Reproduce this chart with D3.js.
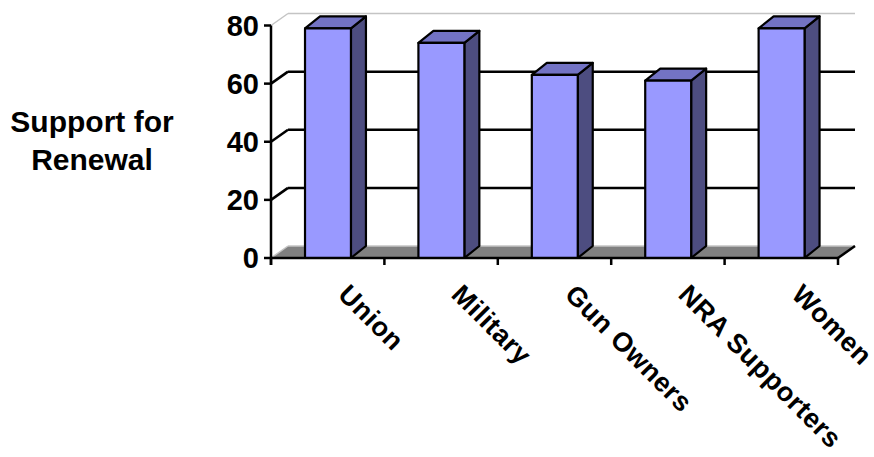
<!DOCTYPE html>
<html>
<head>
<meta charset="utf-8">
<script src="https://cdn.jsdelivr.net/npm/d3@7"></script>
<style>
  html, body { margin: 0; padding: 0; background: #fff; }
  svg { display: block; }
  text { font-family: "Liberation Sans", Arial, sans-serif; font-weight: bold; fill: #000; }
</style>
</head>
<body>
<svg id="chart" width="874" height="457"></svg>
<script>
// Survey results: share supporting renewal, by group
const categories = ["Union", "Military", "Gun Owners", "NRA Supporters", "Women"];
const support = [79, 74, 63, 61, 79];
const yTicks = [0, 20, 40, 60, 80];
const titleLines = ["Support for", "Renewal"];

const svg = d3.select("#chart");

// Front plane of the 3-D plot box
const x = d3.scaleBand().domain(categories).range([271, 838]).padding(0);
const y = d3.scaleLinear().domain([0, 80]).range([258, 25.5]);

// Perspective offsets: walls and bar depth
const wall = { dx: 17, dy: -12 };
const barDepth = { dx: 15, dy: -12 };

const x0 = x.range()[0], x1 = x.range()[1];
const yBase = y(0);

// Floor
svg.append("polygon")
  .attr("points", [
    [x0, yBase], [x1, yBase], [x1 + wall.dx, yBase + wall.dy], [x0 + wall.dx, yBase + wall.dy]
  ].map(p => p.join(",")).join(" "))
  .attr("fill", "#808080");

// Gridlines on the back wall plus their continuation down the side wall
yTicks.forEach(t => {
  const yy = y(t);
  const edge = (t === 0 || t === 80);
  const col = edge ? "#c4c4c4" : "#000";
  const sw = edge ? 1.5 : 2.5;
  svg.append("line")
    .attr("x1", x0 + wall.dx).attr("x2", x1 + wall.dx)
    .attr("y1", yy + wall.dy).attr("y2", yy + wall.dy)
    .attr("stroke", col).attr("stroke-width", sw);
  svg.append("line")
    .attr("x1", x0).attr("y1", yy)
    .attr("x2", x0 + wall.dx).attr("y2", yy + wall.dy)
    .attr("stroke", col).attr("stroke-width", sw);
});

// Right end of the floor
svg.append("line")
  .attr("x1", x1).attr("y1", yBase)
  .attr("x2", x1 + wall.dx).attr("y2", yBase + wall.dy)
  .attr("stroke", "#000").attr("stroke-width", 2.5);

// Bars as 3-D boxes
const bw = x.bandwidth();
const bars = svg.append("g").selectAll("g")
  .data(categories.map((c, i) => ({ c, v: support[i] })))
  .join("g");

bars.each(function(d) {
  const g = d3.select(this);
  const bx = x(d.c) + bw * 0.30;
  const w = bw * 0.405;
  const top = y(d.v);
  const pts = a => a.map(p => p.join(",")).join(" ");
  g.append("polygon")
    .attr("points", pts([[bx + w, yBase], [bx + w + barDepth.dx, yBase + barDepth.dy],
      [bx + w + barDepth.dx, top + barDepth.dy], [bx + w, top]]))
    .attr("fill", "#4d4d80");
  g.append("polygon")
    .attr("points", pts([[bx, top], [bx + barDepth.dx, top + barDepth.dy],
      [bx + w + barDepth.dx, top + barDepth.dy], [bx + w, top]]))
    .attr("fill", "#7373c4");
  g.append("rect")
    .attr("x", bx).attr("y", top).attr("width", w).attr("height", yBase - top)
    .attr("fill", "#9999ff");
  g.selectAll("polygon, rect")
    .attr("stroke", "#000").attr("stroke-width", 2.2).attr("stroke-linejoin", "round");
});

// Value axis
const yAxis = svg.append("g");
yAxis.append("line")
  .attr("x1", x0).attr("x2", x0)
  .attr("y1", y(80)).attr("y2", yBase + 7)
  .attr("stroke", "#000").attr("stroke-width", 2.5);
yAxis.selectAll(".tick")
  .data(yTicks)
  .join("line")
  .attr("x1", x0 - 7).attr("x2", x0)
  .attr("y1", d => y(d)).attr("y2", d => y(d))
  .attr("stroke", "#000").attr("stroke-width", 2.5);
yAxis.selectAll("text")
  .data(yTicks)
  .join("text")
  .attr("x", x0 - 12)
  .attr("y", d => y(d))
  .attr("dy", "0.36em")
  .attr("text-anchor", "end")
  .attr("font-size", 29)
  .text(d => d);

// Category axis
const xAxis = svg.append("g");
xAxis.append("line")
  .attr("x1", x0).attr("x2", x1)
  .attr("y1", yBase).attr("y2", yBase)
  .attr("stroke", "#000").attr("stroke-width", 2.5);
const bounds = categories.map(c => x(c)).concat([x1]);
xAxis.selectAll(".tick")
  .data(bounds)
  .join("line")
  .attr("x1", d => d).attr("x2", d => d)
  .attr("y1", yBase).attr("y2", yBase + 7)
  .attr("stroke", "#000").attr("stroke-width", 2.5);
xAxis.selectAll("text")
  .data(categories)
  .join("text")
  .attr("transform", d => `translate(${x(d) + bw / 2 + 9},296) rotate(45)`)
  .attr("text-anchor", "start")
  .attr("font-size", 27)
  .attr("letter-spacing", 0.6)
  .text(d => d);

// Axis title
svg.append("text")
  .attr("x", 92)
  .attr("text-anchor", "middle")
  .attr("font-size", 30)
  .selectAll("tspan")
  .data(titleLines)
  .join("tspan")
  .attr("x", 92)
  .attr("y", (d, i) => 132 + i * 38)
  .text(d => d);
</script>
</body>
</html>
